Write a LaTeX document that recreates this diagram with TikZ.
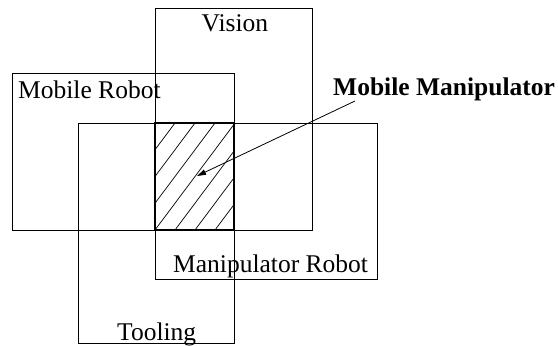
\documentclass[tikz,border=0pt]{standalone}
\usepackage{fontspec}
\setmainfont{Liberation Serif}
\usetikzlibrary{arrows.meta}
\begin{document}
\begin{tikzpicture}[x=1pt,y=-1pt,
  box/.style={draw=black,line width=0.8pt},
  lbl/.style={anchor=base west,inner sep=0pt,font=\fontsize{25.5pt}{28pt}\selectfont},
  boldlbl/.style={lbl,font=\fontsize{25.5pt}{28pt}\selectfont\bfseries},
  hatch/.style={draw=black,line width=0.7pt},
  pointer/.style={draw=black,line width=0.8pt,-{Triangle[length=9pt,width=5.5pt]}}]
  \useasboundingbox (0,0) rectangle (558,346);
  % the four overlapping areas
  \draw[box] (155,8)   rectangle (312,230); % vision
  \draw[box] (12,73)   rectangle (234,230); % mobile robot
  \draw[box] (155,123) rectangle (377,279); % manipulator robot
  \draw[box] (78,123)  rectangle (234,343); % tooling
  % common region, hatched
  \begin{scope}
    \clip (155,123) rectangle (234,230);
    \foreach \k in {0,...,8}
      \draw[hatch] ({175+20*\k+40},{123-53.5}) -- ({175+20*\k-120},{123+160.5});
  \end{scope}
  \draw[line width=1.3pt] (155,123) rectangle (234,230);
  % labels
  \node[lbl] (vision) at (201.5,31.5) {Vision};
  \node[lbl] (mobile) at (18,98) {Mobile Robot};
  \node[lbl] (manip) at (173,272) {Manipulator Robot};
  \node[lbl] (tool) at (117,340) {Tooling};
  \node[boldlbl] (mm) at (333,95) {Mobile Manipulator};
  % pointer into the common region
  \coordinate (arrowstart) at (355,101);
  \coordinate (arrowtip) at (197,176);
  \draw[pointer] (arrowstart) -- (arrowtip);
\end{tikzpicture}
\end{document}
